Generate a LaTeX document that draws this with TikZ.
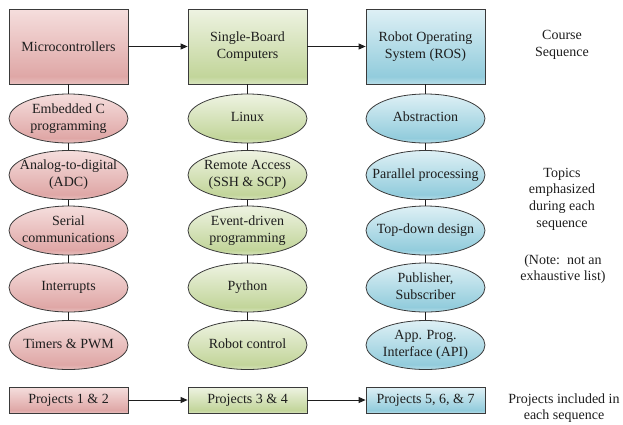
\documentclass[tikz,border=0pt]{standalone}
\usepackage{fontspec}
\setmainfont{Liberation Serif}
\usetikzlibrary{shapes.geometric,arrows.meta}
\definecolor{redT}{HTML}{F5DEDD}
\definecolor{redD}{HTML}{DFA7A6}
\definecolor{redB}{HTML}{E8C0BF}
\definecolor{grnT}{HTML}{EEF3E2}
\definecolor{grnD}{HTML}{C2D59A}
\definecolor{grnB}{HTML}{D7E4BD}
\definecolor{bluT}{HTML}{DEF0F5}
\definecolor{bluD}{HTML}{92CCDC}
\definecolor{bluB}{HTML}{B7DDE8}
\definecolor{edge}{HTML}{3A3A3A}
\definecolor{ink}{HTML}{1E1E1E}
\pgfdeclareverticalshading{redsh}{100bp}{color(0bp)=(redB); color(25bp)=(redB); color(30bp)=(redD); color(75bp)=(redT); color(100bp)=(redT)}
\pgfdeclareverticalshading{grnsh}{100bp}{color(0bp)=(grnB); color(25bp)=(grnB); color(30bp)=(grnD); color(75bp)=(grnT); color(100bp)=(grnT)}
\pgfdeclareverticalshading{blush}{100bp}{color(0bp)=(bluB); color(25bp)=(bluB); color(30bp)=(bluD); color(75bp)=(bluT); color(100bp)=(bluT)}
\newcommand\tp[1]{\makebox[0pt][c]{\begin{tabular}{@{}c@{}}#1\end{tabular}}}
\tikzset{
  tfont/.style={font=\fontsize{14}{16.7}\selectfont, text=ink},
  txt/.style={tfont, align=center},
  course/.style={txt, rectangle, draw=edge, line width=0.8pt, minimum width=119pt, minimum height=75pt, inner sep=0pt},
  proj/.style={txt, rectangle, draw=edge, line width=0.8pt, minimum width=119pt, minimum height=26pt, inner sep=0pt},
  topic/.style={tfont, ellipse, draw=edge, line width=0.8pt, minimum width=119pt, minimum height=49pt, inner sep=0pt},
  rsh/.style={shading=redsh},
  gsh/.style={shading=grnsh},
  bsh/.style={shading=blush},
  link/.style={draw=ink, line width=0.8pt},
  flow/.style={link, -{Triangle[length=7pt,width=6pt]}},
  side/.style={txt}
}
\begin{document}
\begin{tikzpicture}[x=1pt,y=-1pt]
\useasboundingbox (0,0) rectangle (623,424);
% course boxes
\node[course,rsh] (mc) at (68.5,46.5) {Microcontrollers};
\node[course,gsh] (sbc) at (247.5,46.5) {Single-Board\\Computers};
\node[course,bsh] (ros) at (425.5,46.5) {Robot Operating\\System (ROS)};
% column 1
\node[topic,rsh] (a1) at (68.5,118.5) {\tp{Embedded C\\programming}};
\node[topic,rsh] (a2) at (68.5,175) {\tp{Analog-to-digital\\(ADC)}};
\node[topic,rsh] (a3) at (68.5,230.5) {\tp{Serial\\communications}};
\node[topic,rsh] (a4) at (68.5,287.5) {\tp{Interrupts}};
\node[topic,rsh] (a5) at (68.5,345) {\tp{Timers \& PWM}};
% column 2
\node[topic,gsh] (b1) at (247.5,118.5) {\tp{Linux}};
\node[topic,gsh] (b2) at (247.5,175) {\tp{Remote Access\\(SSH \& SCP)}};
\node[topic,gsh] (b3) at (247.5,230.5) {\tp{Event-driven\\programming}};
\node[topic,gsh] (b4) at (247.5,287.5) {\tp{Python}};
\node[topic,gsh] (b5) at (247.5,345) {\tp{Robot control}};
% column 3
\node[topic,bsh] (c1) at (425.5,118.5) {\tp{Abstraction}};
\node[topic,bsh] (c2) at (425.5,175) {\tp{Parallel processing}};
\node[topic,bsh] (c3) at (425.5,230.5) {\tp{Top-down design}};
\node[topic,bsh] (c4) at (425.5,287.5) {\tp{Publisher,\\Subscriber}};
\node[topic,bsh] (c5) at (425.5,345) {\tp{App. Prog.\\Interface (API)}};
% project boxes
\node[proj,rsh] (p1) at (68.5,400) {Projects 1 \& 2};
\node[proj,gsh] (p2) at (247.5,400) {Projects 3 \& 4};
\node[proj,bsh] (p3) at (425.5,400) {Projects 5, 6, \& 7};
% side texts
\node[side] (s1) at (562,45) {Course\\Sequence};
\node[side] (s2) at (562,199) {Topics\\emphasized\\during each\\sequence};
\node[side] (s3) at (563,269) {(Note:\ \ not an\\exhaustive list)};
\node[side] (s4) at (564,408) {Projects included in\\each sequence};
% connectors
\draw[flow] (mc) -- (sbc);
\draw[flow] (sbc) -- (ros);
\draw[flow] (p1) -- (p2);
\draw[flow] (p2) -- (p3);
\foreach \c/\t in {a/mc, b/sbc, c/ros}{
  \draw[link] (\t) -- (\c1);
  \draw[link] (\c1) -- (\c2);
  \draw[link] (\c2) -- (\c3);
  \draw[link] (\c3) -- (\c4);
  \draw[link] (\c4) -- (\c5);
}
\end{tikzpicture}
\end{document}
